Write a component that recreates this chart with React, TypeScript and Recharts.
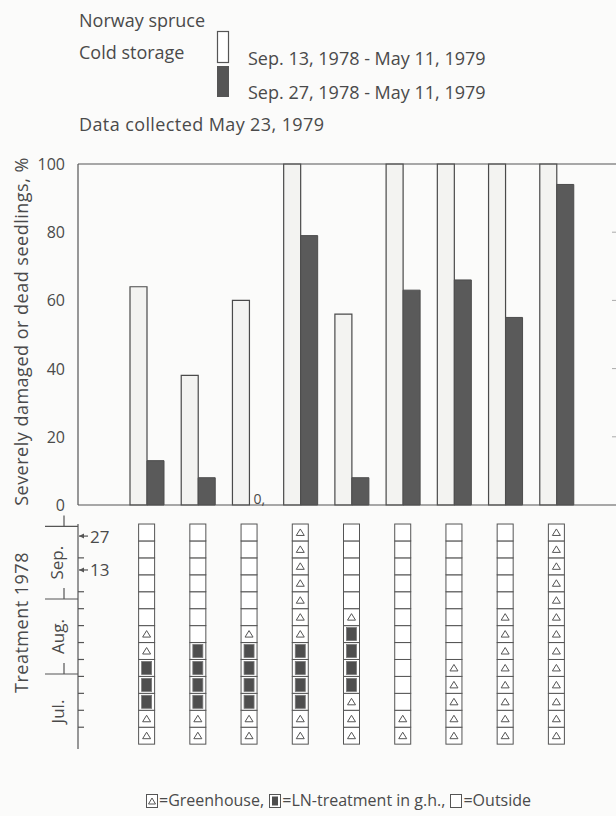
import React from 'react';
import {
  BarChart,
  Bar,
  XAxis,
  YAxis,
  ReferenceLine,
  LabelList,
  ScatterChart,
  Scatter,
} from 'recharts';

// Seedling groups, one per treatment schedule
const groups = ['1', '2', '3', '4', '5', '6', '7', '8', '9'];
// Severely damaged or dead seedlings, %
const storedFromSep13 = [64, 38, 60, 100, 56, 100, 100, 100, 100];
const storedFromSep27 = [13, 8, 0, 79, 8, 63, 66, 55, 94];
const damageTicks = [0, 20, 40, 60, 80, 100];
const rightTicks = [20, 40, 60, 80];

// Weekly treatment of each group, first week of July first.
// G = greenhouse, L = LN-treatment in greenhouse, O = outside
const weeklyTreatment = [
  'GGLLLGGOOOOOO',
  'GGLLLLOOOOOOO',
  'GGLLLLGOOOOOO',
  'GGLLLLGGGGGGG',
  'GGGLLLLGOOOOO',
  'GGOOOOOOOOOOO',
  'GGGGGOOOOOOOO',
  'GGGGGGGGOOOOO',
  'GGGGGGGGGGGGG',
];
// Days counted from July 1, 1978
const weekStartDays = [2, 9, 16, 23, 30, 37, 44, 51, 58, 65, 72, 79, 86];
const weekTickDays = [9, 16, 23, 30, 37, 44, 51, 58, 65, 79];
const monthBoundaryDays = [31, 62, 92];
const monthNames = ['Jul.', 'Aug.', 'Sep.'];
const monthMidDays = [15.5, 46.5, 77];
const storageStartDays = [74, 88];
const storageStartLabels = ['13', '27'];
const dayDomain = [0, 93];
const timeTicks = [...weekTickDays, ...monthBoundaryDays, ...monthMidDays, ...storageStartDays];

const FONT = '"Open Sans", sans-serif';
const INK = '#4a4a4a';
const LINE = '#555555';

const barRows = groups.map((g, i) => ({
  group: g,
  sep13: storedFromSep13[i],
  sep27: storedFromSep27[i],
}));

const cellRows = groups.flatMap((g, i) =>
  weekStartDays.map((d, w) => ({
    group: g,
    day: d + 3.5,
    kind: weeklyTreatment[i][w],
  }))
);

const CellShape = (props: any) => {
  const { cx, cy, payload } = props;
  if (cx == null || cy == null) return null;
  const w = 16;
  const h = 16.9;
  const x = cx - w / 2;
  const y = cy - h / 2;
  return (
    <g>
      <rect x={x} y={y} width={w} height={h} fill="#ffffff" stroke={LINE} strokeWidth={1} />
      {payload.kind === 'L' && (
        <rect x={cx - 5} y={cy - 6.5} width={10} height={13} fill="#4e4e4e" stroke="#777" strokeWidth={0.8} />
      )}
      {payload.kind === 'G' && (
        <polygon
          points={`${cx},${cy - 3.5} ${cx + 4},${cy + 3} ${cx - 4},${cy + 3}`}
          fill="none"
          stroke={LINE}
          strokeWidth={1}
        />
      )}
    </g>
  );
};

// Time axis of the treatment panel: week ticks, month brackets and names,
// and arrows for the start of cold storage.
const TimeTick = (props: any) => {
  const { y, payload } = props;
  const v = payload.value;
  if (weekTickDays.includes(v)) {
    return <line x1={78} y1={y} x2={84} y2={y} stroke={LINE} strokeWidth={1.2} />;
  }
  const bi = monthBoundaryDays.indexOf(v);
  if (bi >= 0) {
    return (
      <g>
        <line x1={45} y1={y} x2={78} y2={y} stroke={LINE} strokeWidth={1.2} />
        <line x1={64} y1={y - 11} x2={64} y2={y} stroke={LINE} strokeWidth={1.2} />
      </g>
    );
  }
  const mi = monthMidDays.indexOf(v);
  if (mi >= 0) {
    return (
      <text
        x={57}
        y={y}
        transform={`rotate(-90 57 ${y})`}
        textAnchor="middle"
        dominantBaseline="central"
        fontFamily={FONT}
        fontSize={17}
        fill={INK}
      >
        {monthNames[mi]}
      </text>
    );
  }
  const si = storageStartDays.indexOf(v);
  if (si >= 0) {
    return (
      <g>
        <line x1={79} y1={y} x2={88} y2={y} stroke={LINE} strokeWidth={1.2} />
        <polygon points={`${79},${y} ${84},${y - 2.5} ${84},${y + 2.5}`} fill={LINE} />
        <text x={90} y={y} dominantBaseline="central" fontFamily={FONT} fontSize={17} fill={INK}>
          {storageStartLabels[si]}
        </text>
      </g>
    );
  }
  return null;
};

const DamageTick = (props: any) => {
  const { x, y, payload } = props;
  return (
    <g>
      <text
        x={x}
        y={y}
        textAnchor="end"
        dominantBaseline="central"
        fontFamily={FONT}
        fontSize={16}
        fill={INK}
      >
        {payload.value}
      </text>
      {rightTicks.includes(payload.value) && (
        <line x1={612} y1={y} x2={618} y2={y} stroke="#aaa" strokeWidth={1} />
      )}
    </g>
  );
};

// Marks a Sep. 27 bar of height zero, next to its Sep. 13 partner
const ZeroLabel = (props: any) => {
  const vb = props.viewBox || props;
  const i = props.index;
  if (i == null || storedFromSep27[i] !== 0) return null;
  return (
    <text x={vb.x + vb.width + 4} y={vb.y + vb.height - 1} fontFamily={FONT} fontSize={14} fill={INK}>
      0,
    </text>
  );
};

const Swatch = ({ kind }: { kind: string }) => (
  <svg width={12} height={14} style={{ verticalAlign: '-2px', margin: '0 1px' }}>
    <rect x={0.5} y={0.5} width={11} height={13} fill="#fff" stroke={LINE} />
    {kind === 'L' && <rect x={3} y={2.5} width={6} height={9} fill="#4e4e4e" />}
    {kind === 'G' && <polygon points="6,4 9.5,10 2.5,10" fill="none" stroke={LINE} />}
  </svg>
);

const txt = { fontFamily: FONT, fontSize: 18, fill: INK } as const;

export default function App() {
  return (
    <div
      style={{
        position: 'absolute',
        left: 0,
        top: 0,
        width: 616,
        height: 816,
        overflow: 'hidden',
        background: '#fbfbfa',
      }}
    >
      <svg width={616} height={140} style={{ position: 'absolute', left: 0, top: 0 }}>
        <text x={79} y={20} dominantBaseline="central" {...txt}>Norway spruce</text>
        <text x={79} y={52} dominantBaseline="central" {...txt}>Cold storage</text>
        <rect x={217.5} y={31.5} width={11} height={31} fill="#fff" stroke={LINE} strokeWidth={1.2} />
        <rect x={217} y={66} width={12} height={31} fill="#555" />
        <text x={248} y={58} dominantBaseline="central" {...txt}>Sep. 13, 1978 - May 11, 1979</text>
        <text x={248} y={92} dominantBaseline="central" {...txt}>Sep. 27, 1978 - May 11, 1979</text>
        <text x={79} y={124} dominantBaseline="central" {...txt} letterSpacing={0.4}>
          Data collected  May 23, 1979
        </text>
      </svg>

      <div style={{ position: 'absolute', left: 0, top: 0 }}>
        <BarChart
          width={630}
          height={530}
          data={barRows}
          margin={{ top: 164, right: 10, bottom: 5, left: 0 }}
          barSize={17}
          barGap={0}
        >
          <XAxis
            dataKey="group"
            height={20}
            padding={{ left: 43, right: 38 }}
            tick={false}
            tickLine={false}
            axisLine={{ stroke: LINE, strokeWidth: 1.2 }}
          />
          <YAxis
            width={78}
            domain={[0, 100]}
            ticks={damageTicks}
            interval={0}
            tickLine={false}
            tickMargin={7}
            axisLine={{ stroke: LINE, strokeWidth: 1.2 }}
            tick={DamageTick}
            label={{
              value: 'Severely damaged or dead seedlings, %',
              angle: -90,
              position: 'center',
              dx: -17,
              dy: -3,
              style: { fontFamily: FONT, fontSize: 18, letterSpacing: 0.5, fill: INK, textAnchor: 'middle' },
            }}
          />
          <ReferenceLine y={100} stroke={LINE} strokeWidth={1.2} />
          <Bar
            dataKey="sep13"
            fill="#f3f3f1"
            stroke="#4a4a4a"
            strokeWidth={1.2}
            isAnimationActive={false}
          >
            <LabelList dataKey="sep13" content={ZeroLabel} />
          </Bar>
          <Bar
            dataKey="sep27"
            fill="#5a5a5a"
            stroke="#4d4d4d"
            strokeWidth={1}
            isAnimationActive={false}
          />
        </BarChart>
      </div>

      <div style={{ position: 'absolute', left: 0, top: 510 }}>
        <ScatterChart width={630} height={250} margin={{ top: 14, right: 10, bottom: 11, left: 0 }}>
          <XAxis
            dataKey="group"
            type="category"
            allowDuplicatedCategory={false}
            padding={{ left: 43, right: 38 }}
            hide
          />
          <YAxis
            type="number"
            dataKey="day"
            width={78}
            domain={dayDomain}
            ticks={timeTicks}
            interval={0}
            tickLine={false}
            axisLine={{ stroke: LINE, strokeWidth: 1.2 }}
            tick={TimeTick}
            label={{
              value: 'Treatment  1978',
              angle: -90,
              position: 'center',
              dx: -17,
              dy: -14,
              style: { fontFamily: FONT, fontSize: 18, letterSpacing: 0.5, fill: INK, textAnchor: 'middle' },
            }}
          />
          <Scatter data={cellRows} dataKey="day" shape={CellShape} isAnimationActive={false} />
        </ScatterChart>
      </div>

      <div
        style={{
          position: 'absolute',
          left: 145,
          top: 789,
          fontFamily: FONT,
          fontSize: 16,
          color: INK,
          whiteSpace: 'nowrap',
        }}
      >
        <Swatch kind="G" />=Greenhouse, <Swatch kind="L" />=LN-treatment in g.h., <Swatch kind="O" />=Outside
      </div>
    </div>
  );
}
